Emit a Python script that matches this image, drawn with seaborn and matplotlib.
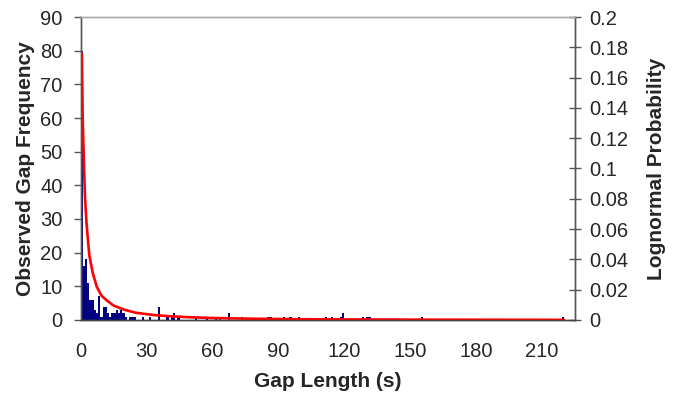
import matplotlib
matplotlib.use("Agg")
import matplotlib.pyplot as plt
import numpy as np
import pandas as pd
import seaborn as sns

# observed gap counts, one-second bins (bin start, count)
GAP_START = [0, 1, 2, 3, 4, 5, 6, 7, 8, 9, 10, 11, 12, 13, 14, 15, 16, 17, 18, 19,
             20, 22, 23, 24, 28, 31, 35, 39, 41, 42, 44, 52, 57, 61, 63, 67, 73,
             85, 86, 92, 95, 99, 111, 114, 118, 119, 128, 130, 131, 155, 219]
GAP_COUNT = [80, 16, 18, 11, 6, 6, 3, 2, 7, 1, 4, 4, 2, 1, 2, 2, 3, 2, 3, 2,
             1, 1, 1, 1, 1, 1, 4, 1, 1, 2, 1, 1, 1, 1, 1, 2, 1,
             1, 1, 1, 1, 1, 1, 1, 1, 2, 1, 1, 1, 1, 1]

# lognormal fit
FIT_X = [0.5, 0.6, 0.9, 1.5, 2.0, 2.7, 3.9, 5.5, 7.3, 9.5, 11.8, 15, 20, 25,
         33, 40, 50, 60, 80, 100, 130, 160, 220]
FIT_P = [0.176, 0.173, 0.134, 0.102, 0.080, 0.063, 0.043, 0.031, 0.022, 0.016,
         0.013, 0.0095, 0.0067, 0.0048, 0.0033, 0.0025, 0.0018, 0.0013, 0.0008,
         0.0005, 0.0003, 0.0002, 0.0001]

sns.set_style("white")
plt.rcParams["font.family"] = ["Liberation Sans", "DejaVu Sans"]

gaps = pd.DataFrame({"start": GAP_START, "count": GAP_COUNT})
fit = pd.DataFrame({"x": FIT_X, "p": FIT_P})

fig = plt.figure(figsize=(6.74, 3.93), dpi=100)
ax = fig.add_axes([0.1197, 0.1858, 0.7333, 0.7709])

sns.histplot(data=gaps, x="start", weights="count", binwidth=1, binrange=(0, 225),
             color="#000080", alpha=1, edgecolor="none", linewidth=0, ax=ax)
ax.set_xlim(0, 225)
ax.set_ylim(0, 90)
ax.set_xticks(np.arange(0, 221, 10))
ax.set_xticklabels([str(v) if v % 30 == 0 else "" for v in range(0, 221, 10)])
ax.set_yticks(np.arange(0, 91, 10))
ax.tick_params(axis="x", direction="inout", length=9, width=1, color="#555555",
               labelsize=14.5, pad=11)
ax.tick_params(axis="y", direction="out", length=5, width=1, color="#555555",
               labelsize=14.5, pad=8)
ax.set_xlabel("Gap Length (s)", fontsize=15, fontweight="bold", labelpad=8)
ax.set_ylabel("Observed Gap Frequency", fontsize=15, fontweight="bold", labelpad=4)

ax2 = ax.twinx()
sns.lineplot(data=fit, x="x", y="p", color="#ff0000", linewidth=1.9, ax=ax2)
ax2.set_ylim(0, 0.2)
ax2.set_yticks(np.arange(0, 0.201, 0.02))
ax2.set_yticklabels(["0", "0.02", "0.04", "0.06", "0.08", "0.1", "0.12", "0.14",
                     "0.16", "0.18", "0.2"])
ax2.tick_params(axis="y", direction="inout", length=9, width=1, color="#555555",
                labelsize=14.5, pad=6)
ax2.set_ylabel("Lognormal Probability", fontsize=15, fontweight="bold", labelpad=13)
ax2.set_xlabel("")

for a in (ax, ax2):
    a.spines["top"].set_color("#aaaaaa")
    a.spines["left"].set_color("#555555")
    a.spines["right"].set_color("#555555")
    a.spines["bottom"].set_color("#444444")
    for s in a.spines.values():
        s.set_linewidth(1)
ax.spines["bottom"].set_zorder(5)

fig.savefig("out.png", dpi=100)
